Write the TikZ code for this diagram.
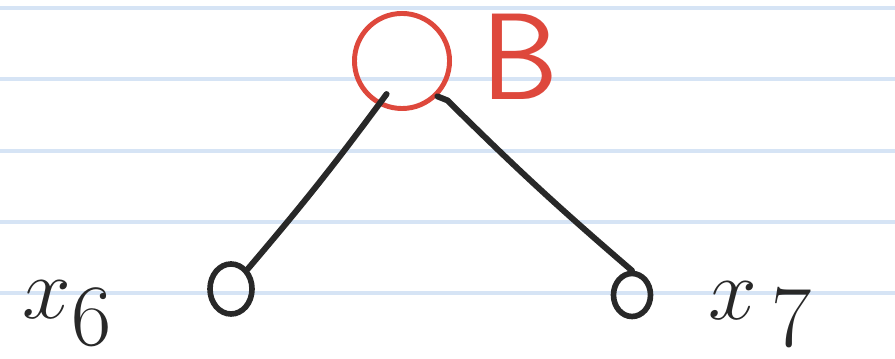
\documentclass[tikz,border=0pt]{standalone}
\usepackage{amsmath}
\usetikzlibrary{calc,shapes.geometric}

\definecolor{penred}{RGB}{222,72,60}
\definecolor{penblack}{RGB}{40,40,40}
\definecolor{ruleblue}{RGB}{214,228,245}

\begin{document}
\begin{tikzpicture}[
  x=0.01cm, y=-0.01cm,
  rule/.style ={draw=ruleblue,line width=1.4pt},
  root/.style ={draw=penred,circle,line width=1.4pt,minimum size=0.95cm,inner sep=0pt},
  leaf/.style ={draw=penblack,ellipse,line width=1.6pt,inner sep=0pt},
  edge/.style ={draw=penblack,line width=1.7pt,line cap=round,line join=round},
  lbl/.style  ={inner sep=0pt,text=penblack,font=\fontsize{42}{46}\selectfont},
]

%% =====================================================
%%  Ruled paper
%% =====================================================
\fill[white] (0,0) rectangle (895,359);
\useasboundingbox (0,0) rectangle (895,359);
\foreach \ry in {8,79,151,222,293}
  \draw[rule] (0,\ry) -- (895,\ry);

%% =====================================================
%%  Root B
%% =====================================================
\node[root] (bnode) at (402,61) {};
\node[inner sep=0pt,anchor=base west,text=penred,
      font=\fontsize{35}{40}\selectfont\sffamily] (blabel) at (481,100) {B};

%% =====================================================
%%  Leaves x6 and x7
%% =====================================================
\node[leaf,minimum width=0.42cm,minimum height=0.50cm] (lleaf) at (231,289) {};
\node[leaf,minimum width=0.37cm,minimum height=0.43cm] (rleaf) at (632,295) {};

\node[lbl,anchor=base west] (xsix)   at (22,319)  {$x_6$};
\node[lbl,anchor=base west] (xseven) at (708,320) {$x_{\,7}$};

%% =====================================================
%%  Branches
%% =====================================================
\draw[edge] (lleaf.50) to[bend right=2] ($(bnode.center)!0.73!(bnode.245)$);
\draw[edge] (bnode.315) -- ++(10,4) to[bend right=2] (rleaf.north);

\end{tikzpicture}
\end{document}
